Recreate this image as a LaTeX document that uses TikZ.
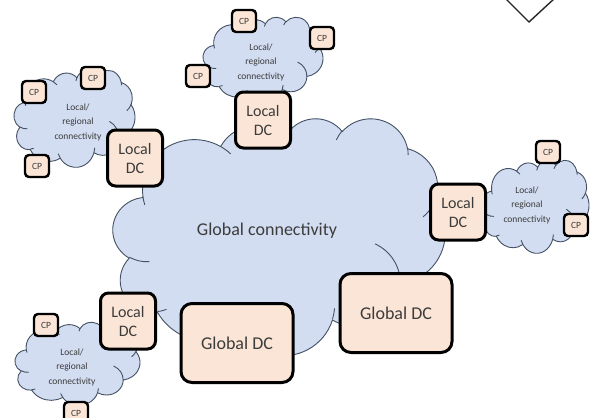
\documentclass[tikz,border=0pt]{standalone}
\usepackage{fontspec}
\setmainfont{Carlito}

\definecolor{cloudfill}{RGB}{210,221,241}
\definecolor{cloudedge}{RGB}{68,80,100}
\definecolor{boxfill}{RGB}{251,229,214}
\definecolor{inktext}{RGB}{60,60,60}

% Convert a visual start angle and sweep on an ellipse into the
% parametric angles that TikZ's arc operation expects.
\newcommand\cloudangles[4]{%
  \pgfmathsetmacro\cloudS{atan2((#1)*sin(#3),(#2)*cos(#3))}%
  \pgfmathsetmacro\cloudE{atan2((#1)*sin((#3)+(#4)),(#2)*cos((#3)+(#4)))}%
  \pgfmathsetmacro\cloudD{\cloudE-\cloudS}%
  \pgfmathsetmacro\cloudD{(#4)>0 ? (\cloudD<0 ? \cloudD+360 : \cloudD) : (\cloudD>0 ? \cloudD-360 : \cloudD)}%
}

% A puffy cloud in a 43.2 x 43.2 frame, placed at (#2,#3) with size #4 x #5.
\newcommand\puffcloud[5]{%
  \begin{scope}[shift={(#2,#3)}, xscale=#4/43.2, yscale=#5/43.2]
    \path[cloudbody] (3.900,14.370)
      \foreach \rx/\ry/\st/\sw in {
        6.753/9.190/-190.48748/123.78053,
        5.333/7.267/-144.10238/89.94523,
        4.365/5.945/-145.80792/99.72302,
        4.857/6.595/-130.98607/117.24173,
        5.333/7.273/-78.70888/109.02692,
        6.775/9.220/-46.26725/130.26900,
        5.785/7.867/0.62502/114.03333,
        6.752/9.215/22.45160/115.17255,
        7.720/10.543/66.24263/75.71102,
        4.360/5.918/-274.94208/146.73557,
        4.345/5.945/-246.82850/152.51885}{
        \pgfextra{\cloudangles{\rx}{\ry}{\st}{\sw}}
        arc[start angle=\cloudS, delta angle=\cloudD, x radius=\rx, y radius=\ry]
      } -- cycle;
    \foreach \px/\py/\rx/\ry/\st/\sw in {
        4.693/26.177/4.345/5.945/86.74200/26.42950,
        6.928/34.899/4.360/5.918/73.61047/11.44747,
        16.478/39.090/6.752/9.215/137.62415/14.08110,
        28.827/34.751/6.752/9.215/6.45327/15.99835,
        34.129/22.954/5.785/7.867/-70.29235/70.91737,
        41.798/15.354/5.333/7.273/30.31803/27.75150,
        38.324/5.426/4.857/6.595/-13.74433/14.85890,
        29.078/3.952/4.857/6.595/-149.18145/18.19537,
        22.141/4.720/4.365/5.945/-163.49427/17.68635,
        14.000/5.192/6.753/9.190/-66.70695/12.31935,
        4.127/15.789/6.753/9.190/157.65435/11.85817}{
      \cloudangles{\rx}{\ry}{\st}{\sw}
      \draw[cloudfold] (\px,\py) arc[start angle=\cloudS, delta angle=\cloudD, x radius=\rx, y radius=\ry];
    }
    \coordinate (#1) at (21.6,21.6);
  \end{scope}
}

\tikzset{
  cloudbody/.style={fill=cloudfill, draw=cloudedge, line width=0.9pt, line join=round},
  cloudfold/.style={draw=cloudedge, line width=0.9pt, line cap=round},
  cloudtext/.style={font=\fontsize{9.5}{14.5}\selectfont, align=center, text=inktext, inner sep=0pt},
  cpbox/.style={draw=black, line width=2.4pt, fill=boxfill, rounded corners=4pt,
    minimum width=24pt, minimum height=22pt, inner sep=0pt,
    font=\fontsize{9.5}{10}\selectfont, text=inktext},
  ldcbox/.style={draw=black, line width=3pt, fill=boxfill, rounded corners=8pt,
    minimum width=55pt, minimum height=56pt, inner sep=0pt, align=center,
    font=\fontsize{16}{19}\selectfont, text=inktext},
  gdcbox/.style={draw=black, line width=3pt, fill=boxfill, rounded corners=11pt,
    minimum width=112pt, minimum height=79pt, inner sep=0pt,
    font=\fontsize{18}{20}\selectfont, text=inktext},
  chevron/.style={draw=black!85, line width=1.4pt},
}

\begin{document}
\begin{tikzpicture}[x=1pt, y=-1pt]
  \useasboundingbox (0,0) rectangle (590,418);
  \clip (0,0) rectangle (590,418);

  % clouds
  \puffcloud{globalnet}{113}{118}{332}{237}
  \puffcloud{topnet}{203}{17}{120}{85}
  \puffcloud{leftnet}{14}{70}{121}{97}
  \puffcloud{rightnet}{482}{160}{107}{93}
  \puffcloud{lowleftnet}{15}{322}{125}{83}

  % cloud labels
  \node[font=\fontsize{18}{20}\selectfont, text=inktext] (globallabel) at (267,231) {Global connectivity};
  \node[cloudtext] (toplabel) at (261,62) {Local/\\regional\\connectivity};
  \node[cloudtext] (leftlabel) at (78,122) {Local/\\regional\\connectivity};
  \node[cloudtext] (rightlabel) at (527,205) {Local/\\regional\\connectivity};
  \node[cloudtext] (lowleftlabel) at (72,367) {Local/\\regional\\connectivity};

  % content providers
  \node[cpbox] (cp1) at (244,21) {CP};
  \node[cpbox] (cp2) at (322,38) {CP};
  \node[cpbox] (cp3) at (198,76) {CP};
  \node[cpbox] (cp4) at (34,92) {CP};
  \node[cpbox] (cp5) at (93,78) {CP};
  \node[cpbox] (cp6) at (37,166) {CP};
  \node[cpbox] (cp7) at (548,152) {CP};
  \node[cpbox] (cp8) at (576,225) {CP};
  \node[cpbox] (cp9) at (46,325) {CP};
  \node[cpbox] (cp10) at (76,413) {CP};

  % data centres
  \node[ldcbox] (ldtop) at (263,120) {Local\\DC};
  \node[ldcbox] (ldleft) at (135,158) {Local\\DC};
  \node[ldcbox] (ldright) at (458,212) {Local\\DC};
  \node[ldcbox] (ldlow) at (128,321) {Local\\DC};
  \node[gdcbox] (gdlow) at (237,343) {Global DC};
  \node[gdcbox] (gdright) at (396,313) {Global DC};

  % chevron at the top edge
  \coordinate (chevL) at (505,-2);
  \coordinate (chevM) at (529,22);
  \coordinate (chevR) at (555,-2);
  \draw[chevron] (chevL) -- (chevM) -- (chevR);
\end{tikzpicture}
\end{document}
